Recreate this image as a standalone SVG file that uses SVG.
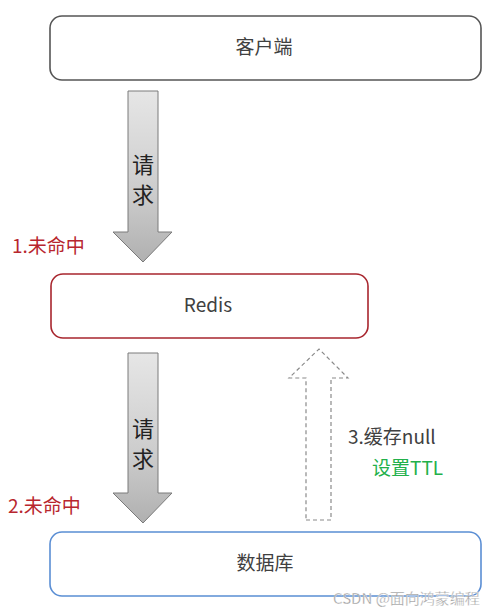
<svg xmlns="http://www.w3.org/2000/svg" width="500" height="613" viewBox="0 0 500 613">
<style>
.t{font-family:"Noto Sans CJK SC","Noto Sans",sans-serif;}
.box{fill:#fff;stroke-width:1.6;}
.lbl{font-size:19px;fill:#404040;}
.red{font-size:19px;fill:#b8262e;}
.down{fill:url(#g);stroke:#7a7a7a;stroke-width:1;}
.req{font-size:22px;fill:#222;}
</style>
<defs>
<linearGradient id="g" x1="0" y1="0" x2="0" y2="1">
<stop offset="0" stop-color="#e6e6e6"/>
<stop offset="0.6" stop-color="#cccccc"/>
<stop offset="1" stop-color="#b0b0b0"/>
</linearGradient>
</defs>
<rect width="500" height="613" fill="#fff"/>
<g id="client">
<rect class="box" x="50" y="16" width="431" height="64" rx="12" stroke="#555"/>
<text class="t lbl" x="264" y="54" text-anchor="middle">客户端</text>
</g>
<g id="redis">
<rect class="box" x="51" y="274" width="317" height="64" rx="12" stroke="#a8262e"/>
<text class="t lbl" x="208" y="312" text-anchor="middle">Redis</text>
</g>
<g id="db">
<rect class="box" x="50" y="532" width="431" height="64" rx="12" stroke="#5a8ed4"/>
<text class="t lbl" x="265" y="570" text-anchor="middle">数据库</text>
</g>
<g id="connectors">
<g id="req1">
<polygon class="down" points="128,91 158,91 158,232 172,232 143,262 113,232 128,232"/>
<text class="t req" x="143" y="173" text-anchor="middle">请</text>
<text class="t req" x="143" y="203" text-anchor="middle">求</text>
</g>
<g id="req2">
<polygon class="down" points="128,353 158,353 158,493 172,493 143,523 113,493 128,493"/>
<text class="t req" x="143" y="437" text-anchor="middle">请</text>
<text class="t req" x="143" y="467" text-anchor="middle">求</text>
</g>
<polygon id="cache" points="306,520 331,520 331,378 348,378 319,349 289,378 306,378" fill="none" stroke="#8a8a8a" stroke-width="1.2" stroke-dasharray="4,3"/>
</g>
<text class="t red" x="12" y="253">1.未命中</text>
<text class="t red" x="8" y="513">2.未命中</text>
<text class="t lbl" x="348" y="444">3.缓存null</text>
<text class="t" x="372" y="475" font-size="19" fill="#22b04a">设置TTL</text>
<text class="t" x="333" y="604" font-size="15" fill="#9a9a9a" stroke="#fff" stroke-width="0.3">CSDN @面向鸿蒙编程</text>
</svg>
